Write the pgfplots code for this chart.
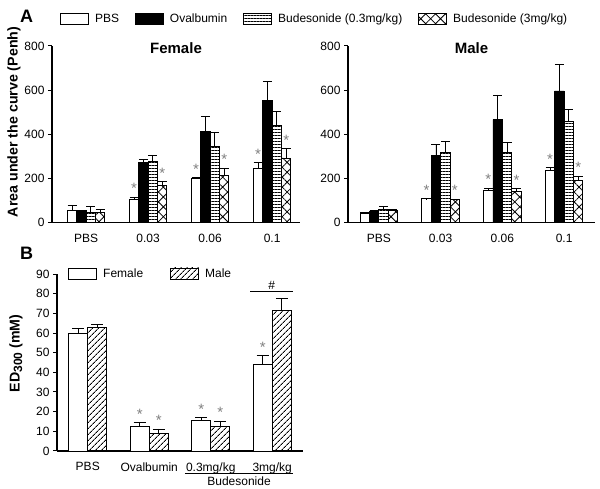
\documentclass[border=0pt]{standalone}
\usepackage{fontspec}
\setmainfont{Liberation Sans}
\usepackage{pgfplots}
\pgfplotsset{compat=1.18}
\usepackage{pgfplotstable}
\usetikzlibrary{patterns.meta}

% AUC values, error = SEM (plus side only)
\pgfplotstableread{
x pbs pbsE ova ovaE bl blE bh bhE
0 56  22   54  3    47  27  48  11
1 107 9    272 15   277 27  170 16
2 200 3    414 66   344 65  212 35
3 245 27   552 87   442 63  293 41
}\femaletable

\pgfplotstableread{
x pbs pbsE ova ovaE bl blE bh bhE
0 44  2    51  3    60  15  57  3
1 108 1    304 51   316 52  104 3
2 147 8    466 112  317 47  143 10
3 238 10   596 120  459 55  193 16
}\maletable

% ED300
\pgfplotstableread{
x f    fE  m    mE
0 59.8 2.3 62.8 1.7
1 12.4 2.0 8.7  2.5
2 15.8 1.2 12.4 2.9
3 44.0 4.4 71.3 6.3
}\edtable

\newcommand{\lbl}{\fontsize{12}{12}\selectfont}

\pgfplotsset{
  panel/.style={
    scale only axis, clip=false, anchor=south west,
    axis lines=left, axis line style={-, line width=1.1pt},
    tick align=outside, major tick length=4pt,
    xtick={0,1,2,3}, xtick style={draw=none},
    ytick style={line width=1pt, black},
    tick label style={font=\lbl},
    xticklabel style={yshift=-4pt},
    /pgf/number format/assume math mode=true,
    ylabel style={anchor=center, font=\bfseries\fontsize{14.2}{14.2}\selectfont},
    title style={anchor=center, font=\bfseries\fontsize{15}{15}\selectfont},
    legend image code/.code={\draw[#1, line width=0.9pt] (0pt,-5.5pt) rectangle (28pt,5.5pt);},
  },
  bars/.style={ybar, bar width=#1, bar shift=0pt, draw=black, line width=0.8pt,
    error bars/y dir=plus, error bars/y explicit,
    error bars/error bar style={line width=0.8pt, black},
    error bars/error mark options={rotate=90, line width=0.8pt, black, mark size=4.5pt}},
  star/.style={ybar, bar width=9pt, bar shift=0pt, draw=none, fill=none, forget plot,
    nodes near coords={*},
    every node near coord/.append style={text=gray, font=\fontsize{15}{15}\selectfont}},
  hlines/.style={pattern={Lines[angle=0, distance=3pt, line width=0.8pt]}},
  xhatch/.style={pattern={Hatch[angle=45, distance=7pt, line width=0.8pt]}},
}

\begin{document}
\begin{tikzpicture}
\useasboundingbox (0pt,0pt) rectangle (600pt,489pt);

\node[font=\bfseries\fontsize{18}{18}\selectfont] at (26.5pt,473pt) {A};
\node[font=\bfseries\fontsize{18}{18}\selectfont] at (26.5pt,236pt) {B};

% ---- Female
\begin{axis}[panel, at={(52pt,266.3pt)},
  width=248pt, height=176.8pt,
  xmin=-0.55, xmax=3.45, ymin=0, ymax=800,
  ytick={0,200,400,600,800},
  xticklabels={PBS,0.03,0.06,0.1},
  title={Female}, title style={at={(0.5,0.954)}},
  ylabel={Area under the curve (Penh)},
  ylabel style={at={(axis description cs:-0.153,0.57)}},
  legend columns=4,
  legend style={draw=none, font=\lbl, at={(0.032,1.152)}, anchor=west,
    inner sep=0pt,
    /tikz/every odd column/.append style={column sep=4pt},
    /tikz/every even column/.append style={column sep=14pt}},
]
\addplot[bars=9.4pt, fill=white]
  table[x expr=\thisrow{x}-0.2274, y=pbs, y error=pbsE]{\femaletable};
\addlegendentry{PBS\hspace{12pt}}
\addplot[bars=9.4pt, fill=black]
  table[x expr=\thisrow{x}-0.0758, y=ova, y error=ovaE]{\femaletable};
\addlegendentry{Ovalbumin}
\addplot[bars=9.4pt, hlines]
  table[x expr=\thisrow{x}+0.0758, y=bl, y error=blE]{\femaletable};
\addlegendentry{Budesonide (0.3mg/kg)}
\addplot[bars=9.4pt, xhatch]
  table[x expr=\thisrow{x}+0.2274, y=bh, y error=bhE]{\femaletable};
\addlegendentry{Budesonide (3mg/kg)}
\addplot[star] coordinates {(0.7726,116) (1.7726,203) (2.7726,272)};
\addplot[star] coordinates {(1.2274,186) (2.2274,247) (3.2274,334)};
\end{axis}

% ---- Male
\begin{axis}[panel, at={(348pt,266.3pt)},
  width=247pt, height=176.8pt,
  xmin=-0.5, xmax=3.5, ymin=0, ymax=800,
  ytick={0,200,400,600,800},
  xticklabels={PBS,0.03,0.06,0.1},
  title={Male}, title style={at={(0.5,0.954)}},
]
\addplot[bars=9.4pt, fill=white]
  table[x expr=\thisrow{x}-0.2274, y=pbs, y error=pbsE]{\maletable};
\addplot[bars=9.4pt, fill=black]
  table[x expr=\thisrow{x}-0.0758, y=ova, y error=ovaE]{\maletable};
\addplot[bars=9.4pt, hlines]
  table[x expr=\thisrow{x}+0.0758, y=bl, y error=blE]{\maletable};
\addplot[bars=9.4pt, xhatch]
  table[x expr=\thisrow{x}+0.2274, y=bh, y error=bhE]{\maletable};
\addplot[star] coordinates {(0.7726,109) (1.7726,155) (2.7726,248)};
\addplot[star] coordinates {(1.2274,107) (2.2274,153) (3.2274,209)};
\end{axis}

% ---- ED300
\begin{axis}[panel, at={(57pt,38pt)},
  width=246pt, height=177pt,
  xmin=-0.5, xmax=3.5, ymin=0, ymax=90,
  ytick={0,10,...,90},
  xticklabels={PBS,Ovalbumin,0.3mg/kg,3mg/kg},
  ylabel={ED\raisebox{-0.35ex}{\fontsize{12}{12}\selectfont 300} (mM)},
  ylabel style={at={(axis description cs:-0.167,0.551)}},
  legend columns=2,
  legend style={draw=none, font=\lbl, at={(0.045,1.003)}, anchor=west,
    inner sep=0pt,
    /tikz/every odd column/.append style={column sep=4pt},
    /tikz/every even column/.append style={column sep=25pt}},
]
\addplot[bars=19pt, fill=white,
  error bars/error mark options={rotate=90, line width=0.8pt, black, mark size=6pt}]
  table[x expr=\thisrow{x}-0.1545, y=f, y error=fE]{\edtable};
\addlegendentry{Female}
\addplot[bars=19pt,
  pattern={Lines[angle=45, distance=4pt, line width=1pt]},
  error bars/error mark options={rotate=90, line width=0.8pt, black, mark size=6pt}]
  table[x expr=\thisrow{x}+0.1545, y=m, y error=mE]{\edtable};
\addlegendentry{Male}
\addplot[star] coordinates {(0.8455,14.4) (1.8455,17.0) (2.8455,48.4)};
\addplot[star] coordinates {(1.1545,11.2) (2.1545,15.3)};
\addplot[black, line width=1pt, forget plot] coordinates {(2.64,81) (3.34,81)}
  node[pos=0.5, above, font=\lbl, inner sep=2pt] {\#};
\draw[line width=0.8pt] (axis description cs:0.52,-0.126) -- (axis description cs:0.96,-0.126);
\node[font=\lbl] at (axis description cs:0.74,-0.172) {Budesonide};
\end{axis}
\end{tikzpicture}
\end{document}
